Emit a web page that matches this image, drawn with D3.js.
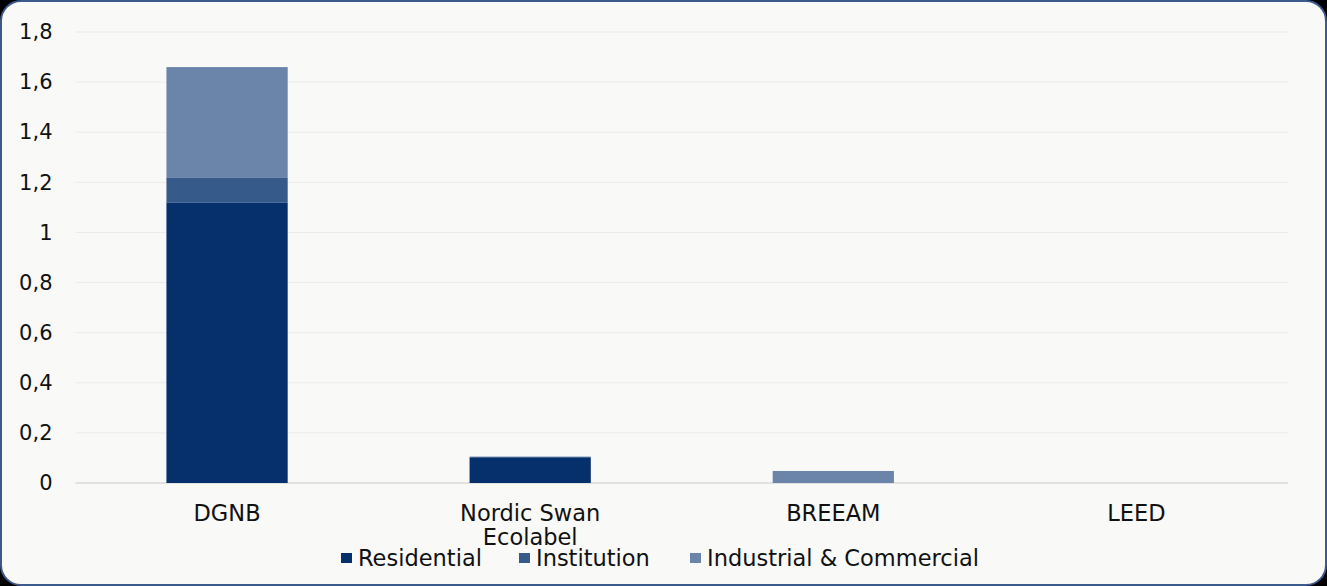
<!DOCTYPE html>
<html>
<head>
<meta charset="utf-8">
<script src="https://cdn.jsdelivr.net/npm/d3@7"></script>
<style>
  html, body { margin: 0; padding: 0; background: #000; }
  svg { display: block; }
  text { font-family: "DejaVu Sans", Verdana, sans-serif; fill: #111; }
</style>
</head>
<body>
<div id="chart"></div>
<script>
// data
let categories = [['DGNB'], ['Nordic Swan', 'Ecolabel'], ['BREEAM'], ['LEED']];
let seriesNames = ['Residential', 'Institution', 'Industrial & Commercial'];
let residential = [1.12, 0.10, 0, 0];
let institution = [0.10, 0.005, 0, 0];
let industrial = [0.44, 0, 0.048, 0];
let yTicks = [0, 0.2, 0.4, 0.6, 0.8, 1, 1.2, 1.4, 1.6, 1.8];
let colors = ['#06306b', '#365b8b', '#6b85aa'];

let svgWidth = 1327;
let svgHeight = 586;
let margin = { top: 32, right: 39, bottom: 103, left: 75.5 };
let width = svgWidth - margin.left - margin.right;
let height = svgHeight - margin.top - margin.bottom;

let svg = d3.select('#chart').append('svg')
    .attr('width', svgWidth)
    .attr('height', svgHeight);

// rounded frame
svg.append('rect')
    .attr('x', 1).attr('y', 1)
    .attr('width', svgWidth - 2).attr('height', svgHeight - 2)
    .attr('rx', 20).attr('ry', 20)
    .attr('fill', '#f9f9f7')
    .attr('stroke', '#3b5b8c')
    .attr('stroke-width', 2);

let g = svg.append('g').attr('transform', `translate(${margin.left}, ${margin.top})`);

let x = d3.scaleBand()
    .domain(categories.map(d => d.join(' ')))
    .range([0, width])
    .paddingInner(0.6)
    .paddingOuter(0.3);

let y = d3.scaleLinear().domain([0, 1.8]).range([height, 0]);

// gridlines
g.selectAll('.grid')
    .data(yTicks)
    .enter()
    .append('line')
    .attr('x1', 0).attr('x2', width)
    .attr('y1', d => y(d)).attr('y2', d => y(d))
    .attr('stroke', d => d === 0 ? '#d9d9d9' : '#ebebeb')
    .attr('stroke-width', d => d === 0 ? 1.5 : 1);

// stacked data
let rows = categories.map((c, i) => ({
    key: c.join(' '),
    Residential: residential[i],
    Institution: institution[i],
    'Industrial & Commercial': industrial[i]
}));
let stacked = d3.stack().keys(seriesNames)(rows);

g.selectAll('.series')
    .data(stacked)
    .enter()
    .append('g')
    .attr('fill', (d, i) => colors[i])
    .selectAll('rect')
    .data(d => d)
    .enter()
    .append('rect')
    .attr('x', d => x(d.data.key))
    .attr('width', x.bandwidth())
    .attr('y', d => y(d[1]))
    .attr('height', d => y(d[0]) - y(d[1]));

// y axis labels
let leftAxis = d3.axisLeft(y)
    .tickValues(yTicks)
    .tickSize(0)
    .tickPadding(23)
    .tickFormat(d => String(d).replace('.', ','));
let yAxisG = g.append('g').call(leftAxis);
yAxisG.select('.domain').remove();
yAxisG.selectAll('text')
    .style('font-family', '"DejaVu Sans", Verdana, sans-serif')
    .style('font-size', '21px')
    .attr('fill', '#111');

// x axis labels
let xLabels = g.selectAll('.xlabel')
    .data(categories)
    .enter()
    .append('text')
    .attr('x', d => x(d.join(' ')) + x.bandwidth() / 2)
    .attr('y', height + 38)
    .attr('text-anchor', 'middle')
    .style('font-size', '22.5px');
xLabels.selectAll('tspan')
    .data(d => d)
    .enter()
    .append('tspan')
    .attr('x', function() { return d3.select(this.parentNode).attr('x'); })
    .attr('dy', (d, i) => i === 0 ? 0 : 23.5)
    .text(d => d);

// legend
let legendX = [341, 519, 690];
let legend = svg.selectAll('.legend')
    .data(seriesNames)
    .enter()
    .append('g')
    .attr('transform', (d, i) => `translate(${legendX[i]}, 553)`);
legend.append('rect')
    .attr('width', 11).attr('height', 10)
    .attr('fill', (d, i) => colors[i]);
legend.append('text')
    .attr('x', 17)
    .attr('y', 13)
    .style('font-size', '22.5px')
    .text(d => d);
</script>
</body>
</html>
